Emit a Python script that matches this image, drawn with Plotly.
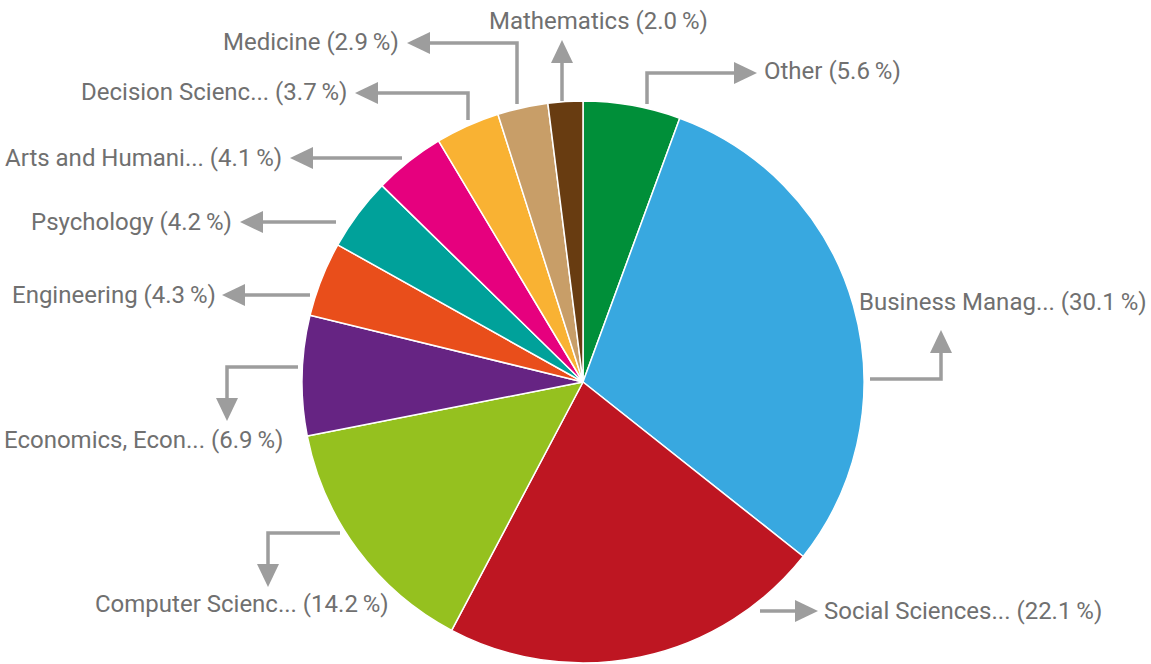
import plotly.graph_objects as go

# Subject areas, clockwise from 12 o'clock
labels = [
    "Other", "Business Manag...", "Social Sciences...", "Computer Scienc...",
    "Economics, Econ...", "Engineering", "Psychology", "Arts and Humani...",
    "Decision Scienc...", "Medicine", "Mathematics",
]
shares = [5.6, 30.1, 22.1, 14.2, 6.9, 4.3, 4.2, 4.1, 3.7, 2.9, 2.0]
colors = [
    "#008f39", "#38a8e0", "#be1622", "#95c11f", "#662483", "#e94e1b",
    "#00a19a", "#e6007e", "#f9b233", "#c89e68", "#683c11",
]

W, H = 1151, 664
CX, CY, R = 583, 382, 281          # pie centre and radius in pixels

# Callout layout: connector polyline (ends at the arrow tip), label anchor
callouts = {
    "Other":              dict(path=[(647, 104), (647, 73), (757, 73)], pos=(762, 71), anchor="left"),
    "Business Manag...":  dict(path=[(870, 379), (941, 379), (941, 330)], pos=(857, 302), anchor="left"),
    "Social Sciences...": dict(path=[(760, 611), (818, 611)], pos=(822, 611), anchor="left"),
    "Computer Scienc...": dict(path=[(340, 533), (268, 533), (268, 587)], pos=(242, 604), anchor="center"),
    "Economics, Econ...": dict(path=[(298, 367), (227, 367), (227, 421)], pos=(285, 440), anchor="right"),
    "Engineering":        dict(path=[(310, 295), (222, 295)], pos=(218, 295), anchor="right"),
    "Psychology":         dict(path=[(336, 222), (240, 222)], pos=(234, 222), anchor="right"),
    "Arts and Humani...": dict(path=[(402, 158), (290, 158)], pos=(284, 158), anchor="right"),
    "Decision Scienc...": dict(path=[(468, 120), (468, 93), (355, 93)], pos=(349, 92), anchor="right"),
    "Medicine":           dict(path=[(517, 104), (517, 43), (407, 43)], pos=(401, 42), anchor="right"),
    "Mathematics":        dict(path=[(562, 101), (562, 40)], pos=(598, 21), anchor="center"),
}

LINE_COLOR = "#9d9d9d"
TEXT_COLOR = "#707070"
HEAD_LEN, HEAD_HALF = 23, 11


def px(x, y):
    return x / W, 1 - y / H


fig = go.Figure(
    go.Pie(
        labels=labels,
        values=shares,
        sort=False,
        direction="clockwise",
        rotation=0,
        marker=dict(colors=colors, line=dict(color="white", width=1.5)),
        textinfo="none",
        hoverinfo="label+percent",
        showlegend=False,
        domain=dict(x=[(CX - R) / W, (CX + R) / W], y=[1 - (CY + R) / H, 1 - (CY - R) / H]),
    )
)

shapes, annotations = [], []
for name, val in zip(labels, shares):
    c = callouts[name]
    pts = c["path"]
    (x0, y0), (x1, y1) = pts[-2], pts[-1]
    dx, dy = x1 - x0, y1 - y0
    n = (dx * dx + dy * dy) ** 0.5
    ux, uy = dx / n, dy / n
    bx, by = x1 - ux * HEAD_LEN, y1 - uy * HEAD_LEN
    line_pts = pts[:-1] + [(bx + ux * 2, by + uy * 2)]
    d = "M " + " L ".join(f"{p[0]},{p[1]}" for p in [px(*q) for q in line_pts])
    shapes.append(dict(type="path", xref="paper", yref="paper", path=d,
                       line=dict(color=LINE_COLOR, width=3.5)))
    # arrow head
    tri = [(x1, y1), (bx - uy * HEAD_HALF, by + ux * HEAD_HALF), (bx + uy * HEAD_HALF, by - ux * HEAD_HALF)]
    d = "M " + " L ".join(f"{p[0]},{p[1]}" for p in [px(*q) for q in tri]) + " Z"
    shapes.append(dict(type="path", xref="paper", yref="paper", path=d,
                       fillcolor=LINE_COLOR, line=dict(width=0)))
    lx, ly = px(*c["pos"])
    annotations.append(dict(
        x=lx, y=ly, xref="paper", yref="paper", showarrow=False,
        text=f"{name} ({val:.1f}\u2009%)", xanchor=c["anchor"], yanchor="middle",
        font=dict(family="Roboto", size=24, color=TEXT_COLOR),
    ))

fig.update_layout(
    width=W, height=H,
    margin=dict(l=0, r=0, t=0, b=0),
    paper_bgcolor="white", plot_bgcolor="white",
    shapes=shapes, annotations=annotations,
)

fig.write_html("out.html")
